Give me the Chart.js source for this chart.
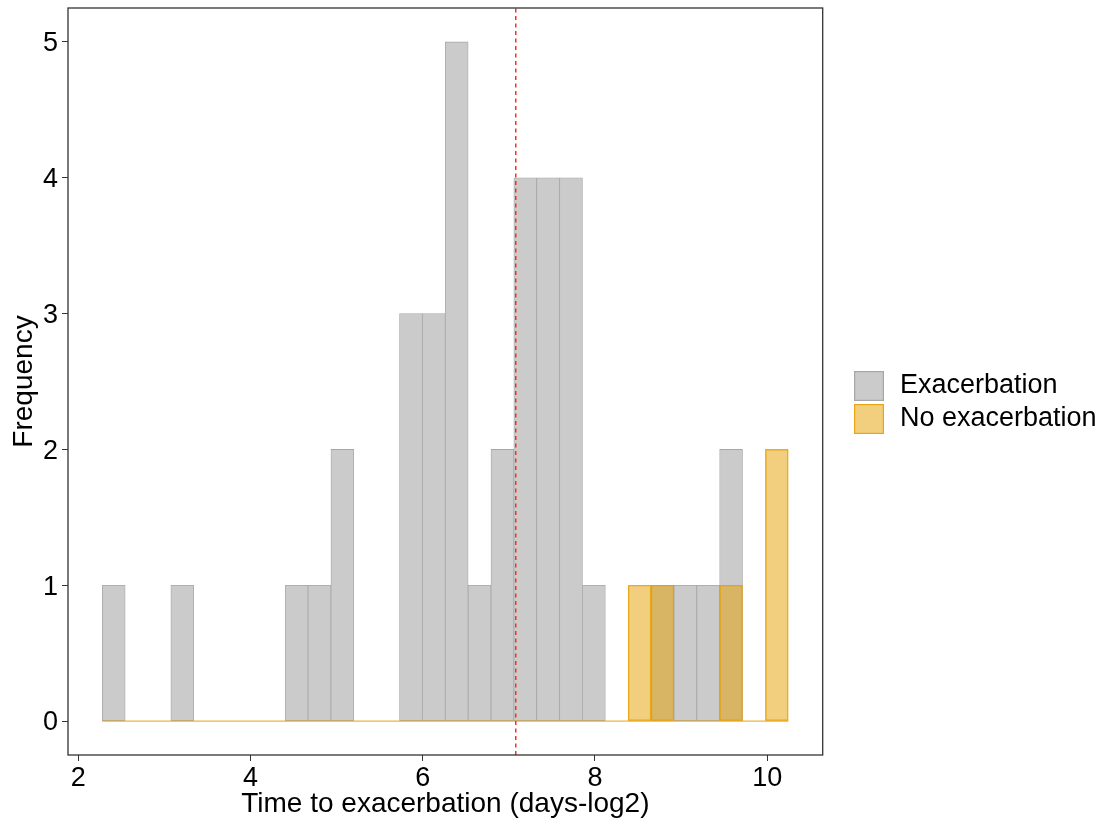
<!DOCTYPE html>
<html>
<head>
<meta charset="utf-8">
<script src="https://cdn.jsdelivr.net/npm/chart.js@4.4.1/dist/chart.umd.min.js"></script>
<style>
  html, body { margin: 0; padding: 0; background: #fff; }
  #wrap { width: 1101px; height: 828px; }
</style>
</head>
<body>
<div id="wrap"><canvas id="hist" width="1101" height="828"></canvas></div>
<script>
// 30 histogram bins on the log2(days) scale
const binCenters = [
    2.41175, 2.67725, 2.94275, 3.20825, 3.47375, 3.73925, 4.00475, 4.27025, 4.53575, 4.80125,
    5.06675, 5.33225, 5.59775, 5.86325, 6.12875, 6.39425, 6.65975, 6.92525, 7.19075, 7.45625,
    7.72175, 7.98725, 8.25275, 8.51825, 8.78375, 9.04925, 9.31475, 9.58025, 9.84575, 10.11125
];
const binWidth = 0.2655;
const exacerbation   = [1, 0, 0, 1, 0, 0, 0, 0, 1, 1, 2, 0, 0, 3, 3, 5, 1, 2, 4, 4, 4, 1, 0, 0, 1, 1, 1, 2, 0, 0];
const noExacerbation = [0, 0, 0, 0, 0, 0, 0, 0, 0, 0, 0, 0, 0, 0, 0, 0, 0, 0, 0, 0, 0, 0, 0, 1, 1, 0, 0, 1, 0, 2];
const meanLine = 7.08;

const xTicks = [2, 4, 6, 8, 10];
const yTicks = [0, 1, 2, 3, 4, 5];
const xRange = [1.881, 10.644];
const yRange = [-0.25, 5.25];

const FONT = '"Liberation Sans", Arial, sans-serif';
const greyFill = '#cbcbcb';
const greyLine = '#a6a6a6';
const orangeFill = 'rgba(230, 159, 0, 0.5)';
const orangeLine = 'rgba(230, 159, 0, 0.85)';

const toPoints = (vals) => vals.map((v, i) => ({ x: binCenters[i], y: v }));

// panel border drawn over the data, like ggplot's panel.border
const panelBorder = {
    id: 'panelBorder',
    afterDatasetsDraw(chart) {
        const { ctx, chartArea: a } = chart;
        ctx.save();
        ctx.strokeStyle = '#333';
        ctx.lineWidth = 1.3;
        ctx.strokeRect(a.left, a.top, a.right - a.left, a.bottom - a.top);
        ctx.restore();
    }
};

// legend at the right with square keys
const sideLegend = {
    id: 'sideLegend',
    afterDraw(chart) {
        const ctx = chart.ctx;
        const items = chart.data.datasets.filter(d => d.type === 'bar');
        ctx.save();
        items.forEach((d, i) => {
            const y = 371 + i * 33;
            ctx.fillStyle = '#fff';
            ctx.fillRect(854, y, 30, 30);
            ctx.fillStyle = d.backgroundColor;
            ctx.fillRect(854, y, 30, 30);
            ctx.strokeStyle = d.borderColor;
            ctx.lineWidth = 1.2;
            ctx.strokeRect(854.6, y + 0.6, 28.8, 28.8);
            ctx.fillStyle = '#000';
            ctx.font = '27px ' + FONT;
            ctx.textBaseline = 'middle';
            ctx.textAlign = 'left';
            ctx.fillText(d.label, 900, y + 15);
        });
        ctx.restore();
    }
};

const noPad = (s) => { s.paddingTop = 0; s.paddingBottom = 0; s.paddingLeft = 0; s.paddingRight = 0; };

new Chart(document.getElementById('hist'), {
    type: 'bar',
    data: {
        datasets: [
            {
                type: 'bar',
                label: 'Exacerbation',
                data: toPoints(exacerbation),
                backgroundColor: greyFill,
                borderColor: greyLine,
                borderWidth: 0.8,
                borderSkipped: false,
                barPercentage: 1,
                categoryPercentage: 1,
                grouped: false,
                order: 3
            },
            {
                type: 'bar',
                label: 'No exacerbation',
                data: toPoints(noExacerbation),
                backgroundColor: orangeFill,
                borderColor: orangeLine,
                borderWidth: 0.8,
                borderSkipped: false,
                barPercentage: 1,
                categoryPercentage: 1,
                grouped: false,
                order: 2
            },
            {
                // zero-count bins show as a flat outline along the baseline
                type: 'line',
                label: 'baseline',
                data: [
                    { x: binCenters[0] - binWidth / 2, y: 0 },
                    { x: binCenters[binCenters.length - 1] + binWidth / 2, y: 0 }
                ],
                borderColor: 'rgba(236, 170, 40, 0.9)',
                borderWidth: 1.3,
                pointRadius: 0,
                order: 1
            },
            {
                type: 'line',
                label: 'mean',
                data: [{ x: meanLine, y: yRange[0] }, { x: meanLine, y: yRange[1] }],
                borderColor: '#ff2a2a',
                borderWidth: 1.5,
                borderDash: [4, 3.5],
                pointRadius: 0,
                order: 0
            }
        ]
    },
    options: {
        responsive: false,
        animation: false,
        events: [],
        layout: { padding: { top: 8, right: 278.3, left: 0, bottom: 0 } },
        plugins: {
            legend: { display: false },
            tooltip: { enabled: false }
        },
        scales: {
            x: {
                type: 'linear',
                offset: false,
                min: xRange[0],
                max: xRange[1],
                afterFit: (s) => { s.height = 73; noPad(s); },
                afterBuildTicks: (s) => { s.ticks = xTicks.map(v => ({ value: v })); },
                grid: { offset: false, drawOnChartArea: false, drawTicks: true, tickLength: 6, color: '#333', lineWidth: 1 },
                border: { display: false },
                ticks: {
                    color: '#000',
                    padding: 1,
                    maxRotation: 0,
                    font: { family: FONT, size: 27, lineHeight: 1.2 },
                    callback: (v) => String(v)
                },
                title: {
                    display: true,
                    text: 'Time to exacerbation (days-log2)',
                    color: '#000',
                    padding: { top: 0, bottom: 7.4 },
                    font: { family: FONT, size: 28, lineHeight: 1.2 }
                }
            },
            y: {
                type: 'linear',
                min: yRange[0],
                max: yRange[1],
                afterFit: (s) => { s.width = 68; noPad(s); },
                afterBuildTicks: (s) => { s.ticks = yTicks.map(v => ({ value: v })); },
                grid: { drawOnChartArea: false, drawTicks: true, tickLength: 6, color: '#333', lineWidth: 1 },
                border: { display: false },
                ticks: {
                    color: '#000',
                    padding: 4,
                    labelOffset: 2,
                    font: { family: FONT, size: 27, lineHeight: 1.2 },
                    callback: (v) => String(v)
                },
                title: {
                    display: true,
                    text: 'Frequency',
                    color: '#000',
                    padding: { top: 7.8, bottom: 0 },
                    font: { family: FONT, size: 28, lineHeight: 1.2 }
                }
            }
        }
    },
    plugins: [panelBorder, sideLegend]
});
</script>
</body>
</html>
